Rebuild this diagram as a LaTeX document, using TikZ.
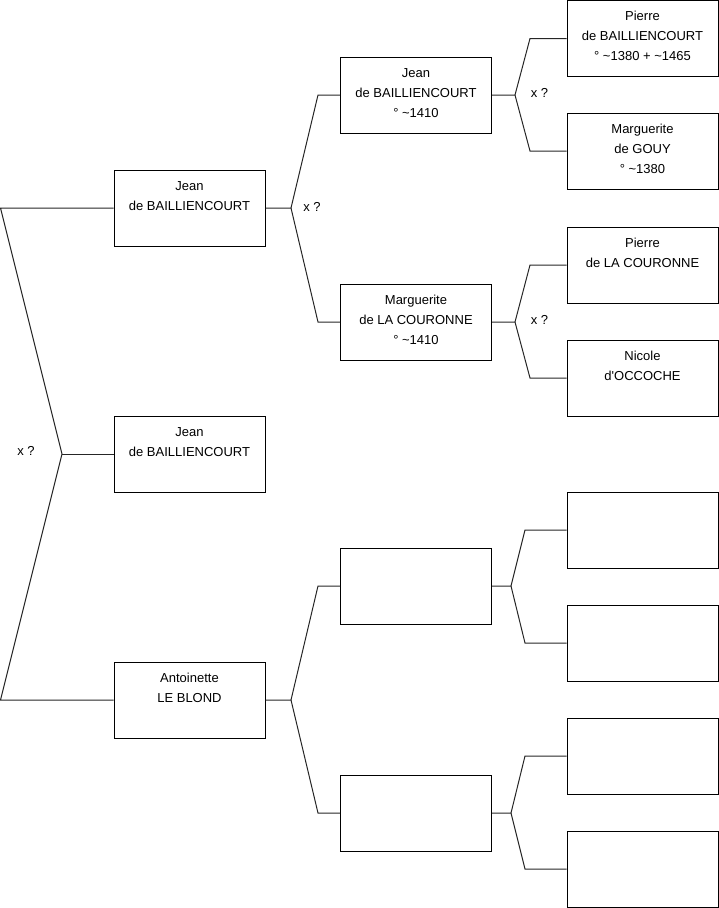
\documentclass[tikz,border=0pt]{standalone}
\usepackage{fontspec}
\setmainfont{Liberation Sans}
\begin{document}
\begin{tikzpicture}[x=1pt,y=-1pt,
  box/.style={draw=black,line width=1pt,minimum width=151pt,minimum height=76pt,inner sep=0pt,fill=white},
  txt/.style={anchor=north,align=center,inner sep=0pt,font=\fontsize{13}{20}\selectfont},
  conn/.style={draw=black!85,line width=1pt},
  xq/.style={inner sep=0pt,font=\fontsize{13}{14}\selectfont}]
\useasboundingbox (0,0) rectangle (719,908);
% column 1
\node[box] (j1) at (189.5,208) {};
\node[box] (j0) at (189.5,454) {};
\node[box] (a1) at (189.5,700) {};
% column 2
\node[box] (j2) at (416,95) {};
\node[box] (m2) at (416,322) {};
\node[box] (b1) at (416,586) {};
\node[box] (b2) at (416,813) {};
% column 3
\node[box] (p3) at (642.5,38.5) {};
\node[box] (g3) at (642.5,151) {};
\node[box] (c3) at (642.5,265) {};
\node[box] (n3) at (642.5,378) {};
\node[box] (e1) at (642.5,530) {};
\node[box] (e2) at (642.5,643) {};
\node[box] (e3) at (642.5,756) {};
\node[box] (e4) at (642.5,869) {};
% texts
\node[txt] (tj1) at ([yshift=-6.5pt]j1.north) {\strut Jean\\de BAILLIENCOURT};
\node[txt] (tj0) at ([yshift=-6.5pt]j0.north) {\strut Jean\\de BAILLIENCOURT};
\node[txt] (ta1) at ([yshift=-6.5pt]a1.north) {\strut Antoinette\\LE BLOND};
\node[txt] (tj2) at ([yshift=-6.5pt]j2.north) {\strut Jean\\de BAILLIENCOURT\\° \textasciitilde1410};
\node[txt] (tm2) at ([yshift=-6.5pt]m2.north) {\strut Marguerite\\de LA COURONNE\\° \textasciitilde1410};
\node[txt] (tp3) at ([yshift=-6.5pt]p3.north) {\strut Pierre\\de BAILLIENCOURT\\° \textasciitilde1380 + \textasciitilde1465};
\node[txt] (tg3) at ([yshift=-6.5pt]g3.north) {\strut Marguerite\\de GOUY\\° \textasciitilde1380};
\node[txt] (tc3) at ([yshift=-6.5pt]c3.north) {\strut Pierre\\de LA COURONNE};
\node[txt] (tn3) at ([yshift=-6.5pt]n3.north) {\strut Nicole\\d\textquotesingle OCCOCHE};
% junction coordinates
\coordinate (L0) at (0.5,208);
\coordinate (Lm) at (62,454);
\coordinate (L1) at (0.5,700);
\coordinate (J1a) at (291,208);
\coordinate (J1b) at (318,95);
\coordinate (J1c) at (318,322);
\coordinate (A1a) at (291,700);
\coordinate (A1b) at (318,586);
\coordinate (A1c) at (318,813);
\coordinate (J2a) at (515,95);
\coordinate (J2b) at (530,38.5);
\coordinate (J2c) at (530,151);
\coordinate (M2a) at (515,322);
\coordinate (M2b) at (530,265);
\coordinate (M2c) at (530,378);
\coordinate (B1a) at (511,586);
\coordinate (B1b) at (525,530);
\coordinate (B1c) at (525,643);
\coordinate (B2a) at (511,813);
\coordinate (B2b) at (525,756);
\coordinate (B2c) at (525,869);
% connectors
\draw[conn] (j1.west) -- (L0) -- (Lm) -- (L1) -- (a1.west);
\draw[conn] (Lm) -- (j0.west);
\draw[conn] (j1.east) -- (J1a) -- (J1b) -- (j2.west);
\draw[conn] (J1a) -- (J1c) -- (m2.west);
\draw[conn] (a1.east) -- (A1a) -- (A1b) -- (b1.west);
\draw[conn] (A1a) -- (A1c) -- (b2.west);
\draw[conn] (j2.east) -- (J2a) -- (J2b) -- (p3.west);
\draw[conn] (J2a) -- (J2c) -- (g3.west);
\draw[conn] (m2.east) -- (M2a) -- (M2b) -- (c3.west);
\draw[conn] (M2a) -- (M2c) -- (n3.west);
\draw[conn] (b1.east) -- (B1a) -- (B1b) -- (e1.west);
\draw[conn] (B1a) -- (B1c) -- (e2.west);
\draw[conn] (b2.east) -- (B2a) -- (B2b) -- (e3.west);
\draw[conn] (B2a) -- (B2c) -- (e4.west);
% marriage labels
\node[xq] (x0) at (26,451) {x ?};
\node[xq] (x1) at (312,207) {x ?};
\node[xq] (x2) at (539.5,93) {x ?};
\node[xq] (x3) at (539.5,320) {x ?};
\end{tikzpicture}
\end{document}
